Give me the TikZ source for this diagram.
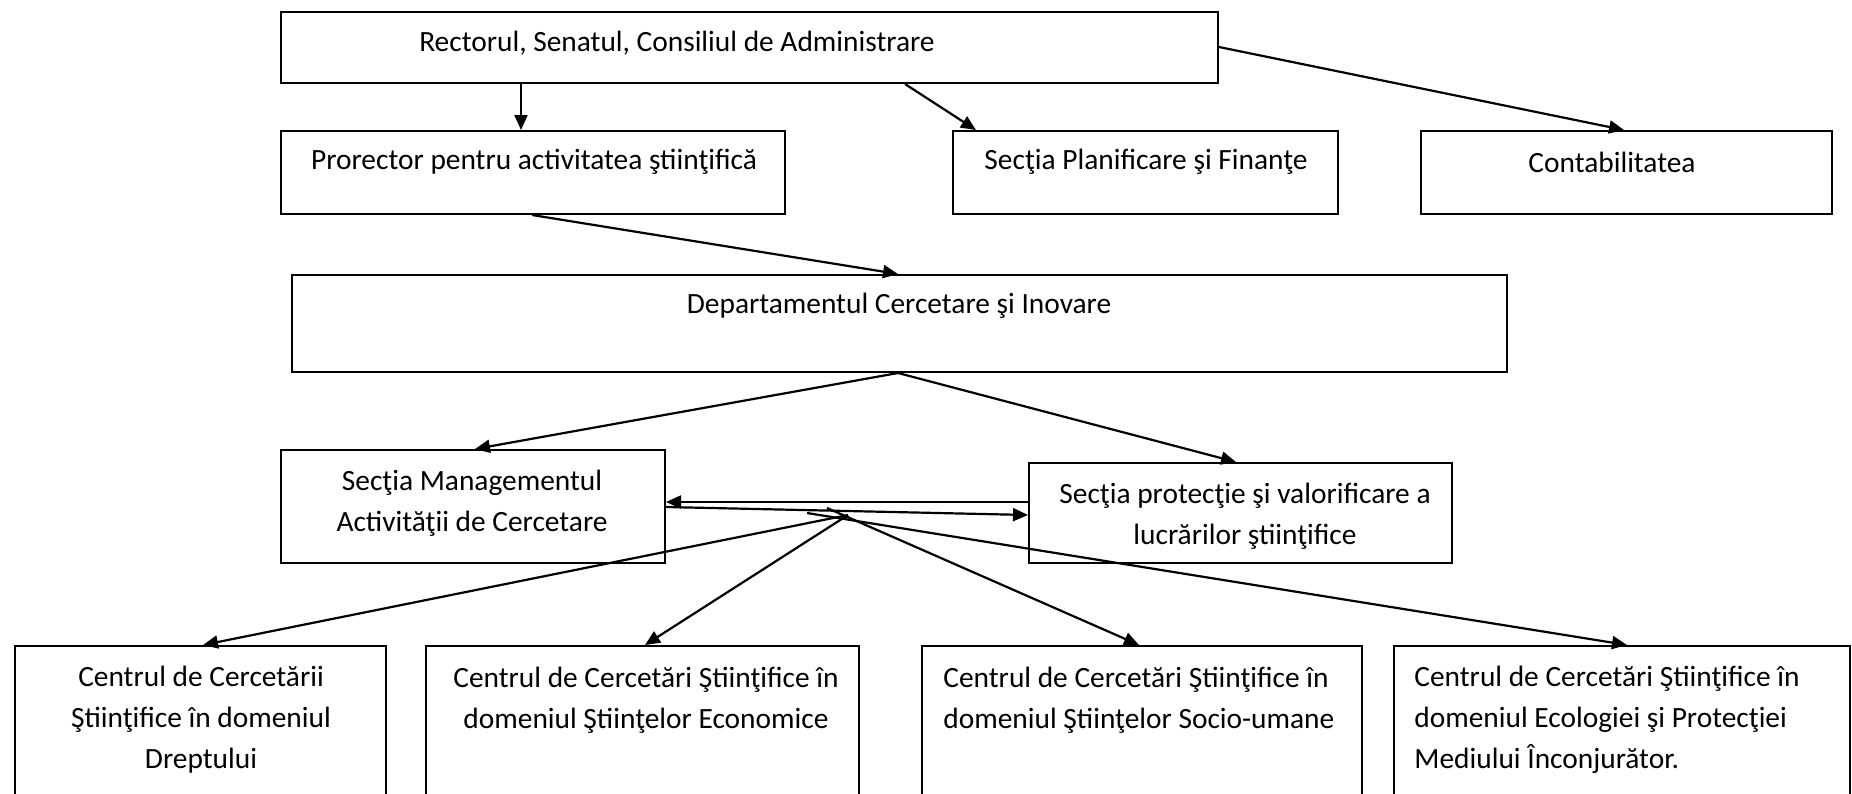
\documentclass[tikz,border=0pt]{standalone}
\usepackage{fontspec}
\setmainfont{Carlito}
\usetikzlibrary{arrows.meta,calc,fit}
\tikzset{
  box/.style={draw=black, line width=1pt, inner sep=0pt, fill=none},
  txt/.style={inner sep=0pt, font=\fontsize{14.7}{20.5}\selectfont},
  arr/.style={line width=1.1pt, -{Triangle[length=7.5pt,width=6.5pt]}}
}
\begin{document}
\begin{tikzpicture}[x=0.5pt,y=-0.5pt]
\useasboundingbox (0,0) rectangle (1852,793);
\clip (0,0) rectangle (1852,793);
\fill[white] (0,0) rectangle (1852,793);
% boxes
\node[box, fit={(281,12) (1218,83)}] (top) {};
\node[box, fit={(281,131) (785,214)}] (pro) {};
\node[box, fit={(953,131) (1338,214)}] (plan) {};
\node[box, fit={(1421,131) (1832,214)}] (cont) {};
\node[box, fit={(292,275) (1507,372)}] (dep) {};
\node[box, fit={(281,450) (665,563)}] (man) {};
\node[box, fit={(1029,463) (1452,563)}] (prot) {};
\node[box, fit={(15,646) (386,830)}] (c1) {};
\node[box, fit={(426,646) (859,830)}] (c2) {};
\node[box, fit={(922,646) (1362,830)}] (c3) {};
\node[box, fit={(1394,646) (1850,830)}] (c4) {};
% texts
\node[txt] (ttop) at (677,43) {Rectorul, Senatul, Consiliul de Administrare};
\node[txt] (tpro) at (534,162) {Prorector pentru activitatea ştiinţifică};
\node[txt] (tplan) at (1146,162) {Secţia Planificare şi Finanţe};
\node[txt] (tcont) at (1612,162) {Contabilitatea};
\node[txt] (tdep) at (899,306) {Departamentul Cercetare şi Inovare};
\node[txt, align=center] (tman) at (472,503) {Secţia Managementul\\Activităţii de Cercetare};
\node[txt, align=center] (tprot) at (1245,516) {Secţia protecţie şi valorificare a\\lucrărilor ştiinţifice};
\node[txt, align=center] (tc1) at (201,720) {Centrul de Cercetării\\Ştiinţifice în domeniul\\Dreptului};
\node[txt, align=center] (tc2) at (646,700) {Centrul de Cercetări Ştiinţifice în\\domeniul Ştiinţelor Economice};
\node[txt, align=left, anchor=west] (tc3) at (943,700) {Centrul de Cercetări Ştiinţifice în\\domeniul Ştiinţelor Socio-umane};
\node[txt, align=left, anchor=west] (tc4) at (1414,720) {Centrul de Cercetări Ştiinţifice în\\domeniul Ecologiei şi Protecţiei\\Mediului Înconjurător.};
% hub points
\coordinate (hA) at (848,515);
\coordinate (hB) at (827,508);
\coordinate (hC) at (807,513);
% connectors
\draw[arr] ($(top.south west)+(241,0)$) -- ($(pro.north west)+(241,0)$);
\draw[arr] ($(top.south west)+(625,0)$) -- ($(plan.north west)+(24,0)$);
\draw[arr] ($(top.north east)+(0,36)$) -- ($(cont.north west)+(204,0)$);
\draw[arr] ($(pro.south west)+(252,0)$) -- ($(dep.north west)+(607,0)$);
\draw[arr] ($(dep.south west)+(607,0)$) -- ($(man.north west)+(195,0)$);
\draw[arr] ($(dep.south west)+(607,0)$) -- ($(prot.north west)+(208,0)$);
\draw[arr] ($(prot.north west)+(0,40)$) -- ($(man.north east)+(0,53)$);
\draw[arr] ($(man.north east)+(0,58)$) -- ($(prot.north west)+(0,53)$);
\draw[arr] (hA) -- ($(c1.north west)+(189,0)$);
\draw[arr] (hA) -- ($(c2.north west)+(220,0)$);
\draw[arr] (hB) -- ($(c3.north west)+(218,0)$);
\draw[arr] (hC) -- ($(c4.north west)+(234,0)$);
\end{tikzpicture}
\end{document}
